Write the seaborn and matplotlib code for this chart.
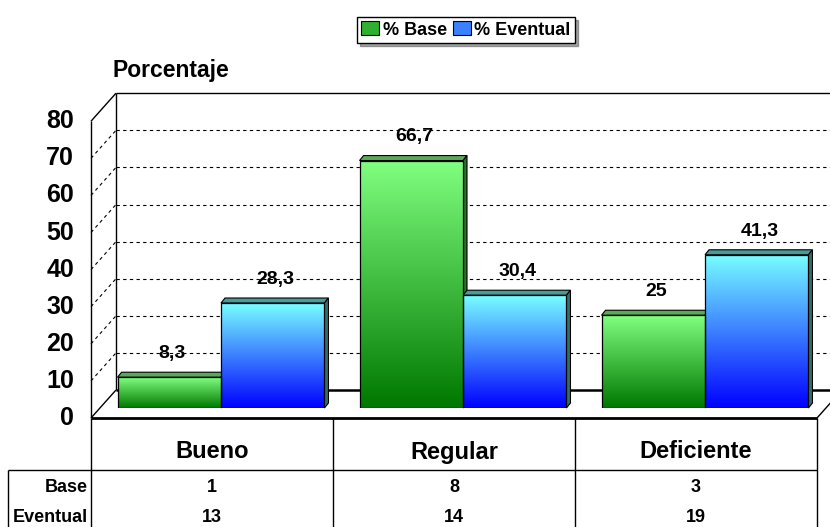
import numpy as np
import pandas as pd
import matplotlib
matplotlib.use("Agg")
import matplotlib.pyplot as plt
import seaborn as sns
from matplotlib.colors import LinearSegmentedColormap
from matplotlib.patches import Polygon, Rectangle

# ---------------- data ----------------
categories = ["Bueno", "Regular", "Deficiente"]
series = ["% Base", "% Eventual"]
base_pct = [8.3, 66.7, 25]
eventual_pct = [28.3, 30.4, 41.3]
base_labels = ["8,3", "66,7", "25"]
eventual_labels = ["28,3", "30,4", "41,3"]
row_names = ["Base", "Eventual"]
base_n = [1, 8, 3]
eventual_n = [13, 14, 19]
yticks = [0, 10, 20, 30, 40, 50, 60, 70, 80]

df = pd.DataFrame({
    "cat": categories * 2,
    "serie": [series[0]] * 3 + [series[1]] * 3,
    "val": base_pct + eventual_pct,
})

plt.rcParams["font.family"] = ["Liberation Sans", "DejaVu Sans"]

W, H = 830, 527
fig = plt.figure(figsize=(W / 100, H / 100), dpi=100)
ax0 = fig.add_axes([0, 0, 1, 1], zorder=0)
ax0.set_xlim(0, W)
ax0.set_ylim(0, H)
ax0.axis("off")

ax = fig.add_axes([100 / W, 119 / H, 726 / W, 296.8 / H], zorder=1)
ax.patch.set_alpha(0)

sns.barplot(data=df, x="cat", y="val", hue="serie", order=categories,
            hue_order=series, palette=["#40c040", "#4080ff"], width=0.855,
            gap=0, ax=ax, legend=False, edgecolor="black", linewidth=0.9,
            saturation=1, errorbar=None)
ax.set_xlim(-0.5, 2.5)
ax.set_ylim(0, 80)
ax.axis("off")

BACK = np.array([16, 18])
FRONT = np.array([-9, -10])


def px(x, v, off=(0, 0)):
    return ax.transData.transform((x, v)) + np.asarray(off)


def seg(p, q, **kw):
    ax0.plot([p[0], q[0]], [p[1], q[1]], color="black", solid_capstyle="butt", **kw)


# back wall gridlines
for v in yticks[1:-1]:
    seg(px(-0.5, v, BACK), px(2.6, v, BACK), lw=0.8, ls=(0, (3, 3)), zorder=1)
    seg(px(-0.5, v, FRONT), px(-0.5, v, BACK), lw=0.8, ls=(0, (3, 3)), zorder=1)
seg(px(-0.5, 80, BACK), px(2.6, 80, BACK), lw=1.0, zorder=1)
seg(px(-0.5, 0, BACK), px(-0.5, 80, BACK), lw=1.0, zorder=1)
seg(px(-0.5, 0, BACK), px(2.6, 0, BACK), lw=1.8, zorder=1)
seg(px(-0.5, 80, FRONT), px(-0.5, 80, BACK), lw=1.0, zorder=1)
seg(px(-0.5, 0, FRONT), px(-0.5, 0, BACK), lw=1.0, zorder=1)
seg(px(-0.5, 0, FRONT), px(-0.5, 80, FRONT), lw=1.0, zorder=1)
seg(px(2.5, 0, FRONT), px(2.5, 0, BACK), lw=1.0, zorder=1)
seg(px(-0.5, 0, FRONT), px(2.5, 0, FRONT), lw=2.0, zorder=1)

# gradient fills and 3D faces
cm_green = LinearSegmentedColormap.from_list("g", ["#007800", "#80ff80"])
cm_blue = LinearSegmentedColormap.from_list("b", ["#0000ff", "#78ffff"])
grad = np.linspace(0, 1, 256).reshape(-1, 1)
bars = sorted(ax.patches, key=lambda b: b.get_x())
labels_all = []
for i in range(3):
    labels_all += [base_labels[i], eventual_labels[i]]
d = np.array([4, 5])
for k, bar in enumerate(bars):
    is_base = (k % 2 == 0)
    x0, w, h = bar.get_x(), bar.get_width(), bar.get_height()
    im = ax.imshow(grad, extent=(x0, x0 + w, 0, h), origin="lower",
                   cmap=cm_green if is_base else cm_blue, aspect="auto", zorder=2)
    im.set_clip_path(bar)
    bar.set_facecolor("none")
    bar.set_zorder(3)
    tl, tr, br = px(x0, h), px(x0 + w, h), px(x0 + w, 0)
    top_c = "#5aa85a" if is_base else "#4a9a9a"
    side_c = "#2e6e2e" if is_base else "#2f7070"
    ax0.add_patch(Polygon([tl, tr, tr + d, tl + d], closed=True, fc=top_c,
                          ec="black", lw=0.8, zorder=3))
    ax0.add_patch(Polygon([br, tr, tr + d, br + d], closed=True, fc=side_c,
                          ec="black", lw=0.8, zorder=3))
    ax.annotate(labels_all[k], (x0 + w / 2, h), xytext=(2, 17),
                textcoords="offset points", ha="center", va="center",
                fontsize=14, fontweight="bold", zorder=5)

ax.set_xlim(-0.5, 2.5)
ax.set_ylim(0, 80)

# y tick labels (front plane)
for v in yticks:
    p = px(-0.5, v, FRONT)
    ax0.text(p[0] - 17, p[1], str(v), ha="right", va="center",
             fontsize=18, fontweight="bold")

ax0.text(112, H - 71, "Porcentaje", ha="left", va="center",
         fontsize=16.5, fontweight="bold")

# data table
edges = [px(x, 0, FRONT)[0] for x in [-0.5, 0.5, 1.5, 2.5]]
y_floor = px(-0.5, 0, FRONT)[1]
y_mid = H - 470
for e in edges:
    seg((e, y_floor), (e, 0), lw=1.0, zorder=1)
seg((8, y_mid), (edges[-1], y_mid), lw=1.0, zorder=1)
seg((8, y_mid), (8, 0), lw=1.0, zorder=1)
for i, c in enumerate(categories):
    xc = (edges[i] + edges[i + 1]) / 2
    ax0.text(xc, H - 452, c, ha="center", va="center", fontsize=17,
             fontweight="bold")
    ax0.text(xc, H - 487, str(base_n[i]), ha="center", va="center",
             fontsize=13, fontweight="bold")
    ax0.text(xc, H - 517, str(eventual_n[i]), ha="center", va="center",
             fontsize=13, fontweight="bold")
ax0.text(edges[0] - 3, H - 487, row_names[0], ha="right", va="center",
         fontsize=13, fontweight="bold")
ax0.text(edges[0] - 3, H - 517, row_names[1], ha="right", va="center",
         fontsize=13, fontweight="bold")

# legend
handles = [Rectangle((0, 0), 1, 1, fc="#30b030", ec="black", lw=0.8),
           Rectangle((0, 0), 1, 1, fc="#3a80ff", ec="black", lw=0.8)]
leg = fig.legend(handles=handles, labels=series, loc="center",
                 bbox_to_anchor=(466 / W, 1 - 30 / H), ncol=2,
                 prop=dict(weight="bold", size=13), frameon=True,
                 fancybox=False, shadow=True, edgecolor="black",
                 framealpha=1, handlelength=1.0, handleheight=0.8,
                 handletextpad=0.2, columnspacing=0.3, borderpad=0.25,
                 borderaxespad=0)
leg.get_frame().set_linewidth(1.0)

fig.savefig("out.png", dpi=100)
